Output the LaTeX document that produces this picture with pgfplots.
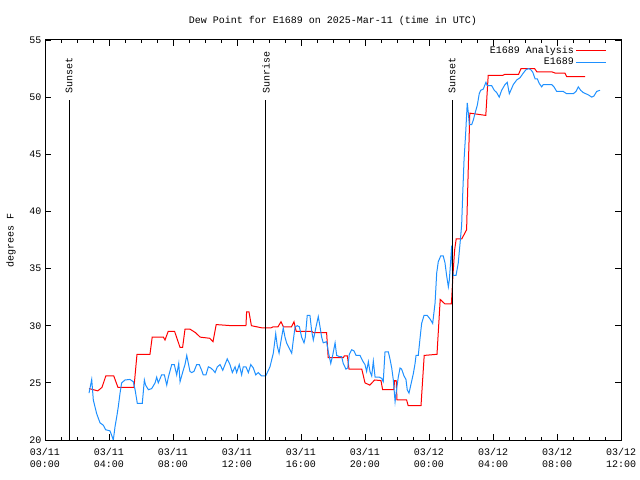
\documentclass[border=0pt]{standalone}
\usepackage{pgfplots}
\pgfplotsset{compat=1.18}
\usepackage{fontspec}
\setmainfont{Liberation Mono}
\definecolor{dblue}{RGB}{30,144,255}
\begin{document}
\begin{tikzpicture}[font=\fontsize{10bp}{12bp}\selectfont]
\begin{axis}[
 scale only axis, width=576bp, height=400bp,
 xmin=0, xmax=36, ymin=20, ymax=55,
 xtick={0,4,...,36},
 xticklabels={{03/11\\00:00},{03/11\\04:00},{03/11\\08:00},{03/11\\12:00},{03/11\\16:00},{03/11\\20:00},{03/12\\00:00},{03/12\\04:00},{03/12\\08:00},{03/12\\12:00}},
 xticklabel style={align=center, yshift=-5bp},
 minor x tick num=3,
 ytick={20,25,...,55},
 tick align=inside,
 major tick length=6bp, minor tick length=3bp,
 axis line style={line width=1bp},
 every tick/.style={black, line width=0.8bp},
 title={Dew Point for E1689 on 2025-Mar-11 (time in UTC)},
 title style={yshift=5bp},
 ylabel={degrees F},
 ylabel style={yshift=7bp},
 legend style={at={(0.981,0.995)}, anchor=north east, draw=none, fill=none, row sep=-1bp},
 legend image code/.code={\draw[#1, line width=1bp] (0bp,0bp) -- (30bp,0bp);},
 legend cell align=right,
 legend plot pos=right,
 /pgf/number format/assume math mode=true,
]
\addplot[red, line width=1bp] table {
2.75 24.5
3.3 24.3
3.56 24.6
3.8 25.6
4.3 25.6
4.56 24.6
5.56 24.6
5.75 27.5
6.56 27.5
6.7 29.0
7.4 29.0
7.5 28.75
7.7 29.5
8.1 29.5
8.44 28.1
8.6 28.1
8.75 29.7
9.06 29.7
9.4 29.4
9.7 29.0
10.3 28.9
10.5 28.6
10.7 30.1
11.7 30.0
12.56 30.0
12.6 31.2
12.75 31.2
12.9 30.0
13.6 29.8
14.1 29.8
14.25 29.9
14.56 29.9
14.75 30.35
14.9 29.9
15.4 29.9
15.56 30.35
15.7 29.5
16.7 29.5
16.75 29.4
17.6 29.4
17.7 27.2
18.65 27.2
18.7 27.35
18.9 27.35
19.0 26.2
19.8 26.2
20.0 25.0
20.3 24.8
20.6 25.25
21.0 25.2
21.1 24.4
21.8 24.4
21.85 25.2
21.95 25.2
22.0 23.5
22.6 23.5
22.7 23.0
23.5 23.0
23.7 27.4
24.5 27.5
24.7 32.3
25.0 31.9
25.4 31.9
25.5 34.5
25.6 36.6
25.7 37.6
26.05 37.6
26.35 38.4
26.55 48.6
27.55 48.4
27.7 51.9
28.6 51.9
28.75 52.0
29.6 52.0
29.75 52.5
30.6 52.5
30.75 52.2
31.7 52.2
31.9 52.1
32.5 52.1
32.6 51.8
33.75 51.8
};
\addlegendentry{E1689 Analysis}
\addplot[dblue, line width=1bp] table {
2.75 24.1
2.92 25.3
3.02 23.5
3.23 22.3
3.44 21.5
3.64 21.3
3.79 20.9
4.06 20.8
4.17 20.4
4.27 20.0
4.38 21.2
4.48 22.0
4.58 22.9
4.69 24.1
4.79 25.0
5.0 25.25
5.31 25.3
5.52 25.1
5.63 24.4
5.77 23.2
6.08 23.2
6.21 25.25
6.29 24.8
6.46 24.4
6.67 24.5
6.88 25.0
6.98 25.5
7.08 25.0
7.29 25.7
7.46 25.7
7.61 24.8
7.71 25.5
7.92 26.6
8.08 26.6
8.23 25.7
8.36 26.7
8.44 25.1
8.64 26.1
8.75 26.6
8.86 27.4
8.96 26.7
9.06 26.0
9.17 25.9
9.31 26.0
9.48 26.6
9.64 26.6
9.79 26.1
9.89 25.7
10.06 25.7
10.21 26.4
10.36 26.3
10.52 26.1
10.63 25.9
10.77 26.4
10.94 26.6
11.11 26.1
11.25 26.6
11.39 27.1
11.56 26.6
11.71 25.9
11.88 26.4
11.98 25.9
12.14 26.6
12.29 25.7
12.39 26.4
12.56 26.4
12.71 25.9
12.86 26.6
13.02 26.3
13.17 25.7
13.33 25.9
13.54 25.6
13.79 25.6
13.96 26.1
14.06 26.4
14.27 27.6
14.42 29.3
14.52 28.2
14.63 27.6
14.73 28.5
14.89 29.8
15.0 29.0
15.1 28.5
15.31 27.9
15.42 27.6
15.52 28.75
15.63 29.9
15.77 30.0
15.9 29.9
16.04 29.0
16.19 28.5
16.27 29.0
16.39 30.9
16.56 30.9
16.67 29.5
16.77 28.75
16.94 29.9
17.08 30.8
17.19 29.9
17.29 29.0
17.39 28.5
17.6 28.6
17.71 27.7
17.86 26.7
17.98 27.4
18.13 28.5
18.23 27.4
18.39 27.3
18.54 27.3
18.64 26.7
18.81 26.2
18.92 26.3
19.02 27.5
19.17 27.9
19.31 27.8
19.44 27.4
19.69 27.4
19.86 26.9
20.0 26.6
20.1 26.0
20.21 26.85
20.31 26.0
20.42 25.6
20.52 26.9
20.63 25.5
20.89 25.5
21.04 25.4
21.14 25.1
21.25 27.7
21.46 27.7
21.56 27.1
21.67 26.3
21.77 25.25
21.88 23.35
21.98 24.5
22.08 25.5
22.19 26.3
22.29 26.2
22.44 25.6
22.56 25.3
22.64 24.4
22.75 24.1
22.86 24.8
23.02 25.8
23.13 26.7
23.19 27.4
23.33 27.4
23.44 28.9
23.54 30.2
23.69 30.9
23.89 30.9
24.06 30.6
24.23 30.2
24.38 32.0
24.48 34.6
24.58 35.6
24.73 36.1
24.89 36.1
25.0 35.5
25.1 34.4
25.21 33.4
25.27 34.0
25.36 35.75
25.42 37.0
25.46 34.9
25.52 34.4
25.69 34.4
25.83 35.5
25.94 37.2
26.04 38.8
26.11 41.6
26.19 44.5
26.29 46.8
26.39 49.5
26.46 48.6
26.52 47.6
26.67 47.6
26.77 48.0
26.88 48.6
27.02 49.3
27.14 50.3
27.23 50.6
27.39 50.7
27.56 51.3
27.64 51.0
27.92 51.0
28.08 50.6
28.23 50.4
28.39 50.0
28.54 50.6
28.75 51.1
28.89 51.3
29.02 50.3
29.27 51.1
29.48 51.5
29.69 51.7
29.89 52.1
30.06 52.4
30.23 52.5
30.36 52.4
30.48 52.2
30.63 51.6
30.77 51.6
30.89 51.2
31.04 50.9
31.14 51.1
31.67 51.1
31.81 50.9
31.98 50.5
32.39 50.5
32.6 50.3
33.02 50.3
33.19 50.5
33.33 50.9
33.48 50.6
33.64 50.4
33.96 50.2
34.17 50.0
34.31 50.1
34.48 50.5
34.69 50.6
};
\addlegendentry{E1689}
\addplot[black, line width=1bp, forget plot] coordinates {(1.5,20) (1.5,49.75)};
\addplot[black, line width=1bp, forget plot] coordinates {(13.81,20) (13.81,49.75)};
\addplot[black, line width=1bp, forget plot] coordinates {(25.44,20) (25.44,49.75)};
\node[rotate=90, anchor=west, inner sep=0pt] at (axis cs:1.5,50.3) {Sunset};
\node[rotate=90, anchor=west, inner sep=0pt] at (axis cs:13.81,50.3) {Sunrise};
\node[rotate=90, anchor=west, inner sep=0pt] at (axis cs:25.44,50.3) {Sunset};
\end{axis}
\pgfresetboundingbox
\path ([shift={(-45bp,-40bp)}]current axis.south west) rectangle ([shift={(19bp,40bp)}]current axis.north east);
\end{tikzpicture}
\end{document}
